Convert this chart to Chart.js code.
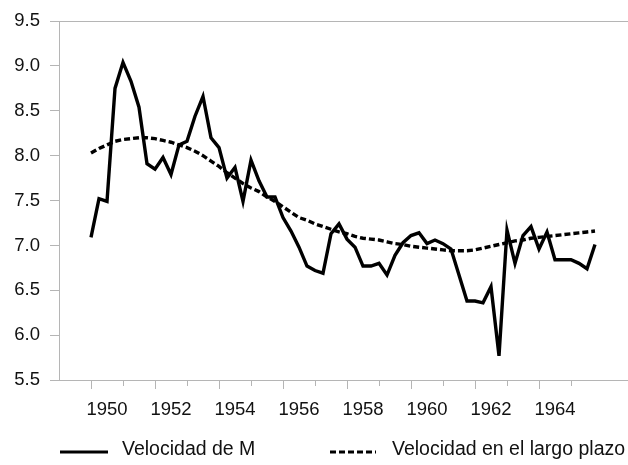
<!DOCTYPE html>
<html lang="es">
<head>
  <meta charset="UTF-8">
  <title>Velocidad de M</title>
  <script src="https://cdn.jsdelivr.net/npm/chart.js"></script>
  <style>
    html, body { margin: 0; padding: 0; background: #fff; }
    #wrap { width: 628px; height: 465px; }
  </style>
</head>
<body>
  <div id="wrap"><canvas id="chart"></canvas></div>

  <script>
    // datos trimestrales 1950T1 - 1965T4
    const firstYear = 1950;
    const velocidadM = [
      7.09, 7.52, 7.49, 8.75, 9.04, 8.83, 8.54, 7.91,
      7.85, 7.98, 7.79, 8.12, 8.16, 8.44, 8.66, 8.20,
      8.09, 7.75, 7.87, 7.49, 7.95, 7.72, 7.54, 7.54,
      7.31, 7.16, 6.98, 6.77, 6.72, 6.69, 7.13, 7.24,
      7.07, 6.98, 6.77, 6.77, 6.80, 6.67, 6.89, 7.03,
      7.11, 7.14, 7.02, 7.06, 7.02, 6.96, 6.67, 6.38,
      6.38, 6.36, 6.54, 5.77, 7.17, 6.80, 7.11, 7.21,
      6.96, 7.15, 6.84, 6.84, 6.84, 6.80, 6.74, 7.01
    ];
    const velocidadLargoPlazo = [
      8.03, 8.08, 8.12, 8.16, 8.18, 8.19, 8.20, 8.20,
      8.19, 8.17, 8.15, 8.12, 8.09, 8.05, 8.00, 7.94,
      7.88, 7.81, 7.75, 7.69, 7.64, 7.60, 7.54, 7.49,
      7.43, 7.37, 7.31, 7.28, 7.24, 7.21, 7.18, 7.15,
      7.13, 7.10, 7.08, 7.07, 7.06, 7.04, 7.02, 7.01,
      6.99, 6.98, 6.97, 6.96, 6.95, 6.94, 6.94, 6.94,
      6.95, 6.97, 6.99, 7.01, 7.03, 7.05, 7.06, 7.08,
      7.09, 7.10, 7.11, 7.12, 7.13, 7.14, 7.15, 7.16
    ];
    const tickYears = [1950,1951,1952,1953,1954,1955,1956,1957,1958,1959,1960,1961,1962,1963,1964,1965];
    const yearLabels = ['1950','1952','1954','1956','1958','1960','1962','1964'];
    const yTicks = [5.5, 6.0, 6.5, 7.0, 7.5, 8.0, 8.5, 9.0, 9.5];

    const axisGray = '#b5b5b5';
    const textColor = '#111';
    const fontFamily = "'Liberation Sans', Arial, sans-serif";

    const toPoints = arr => arr.map((v, i) => ({ x: firstYear + i / 4, y: v }));

    const series = [
      { label: 'Velocidad de M', data: velocidadM, dash: [] },
      { label: 'Velocidad en el largo plazo', data: velocidadLargoPlazo, dash: [6, 3] }
    ];

    // leyenda propia, dos elementos separados como en el original
    const legendSlots = [
      { lineFrom: 60, lineTo: 108, textX: 122 },
      { lineFrom: 330, lineTo: 376, textX: 392 }
    ];
    const legendBelow = {
      id: 'legendBelow',
      afterDraw(chart) {
        const ctx = chart.ctx;
        const y = chart.height - 15;
        ctx.save();
        chart.data.datasets.forEach((ds, i) => {
          const s = legendSlots[i];
          ctx.strokeStyle = ds.borderColor;
          ctx.lineWidth = 3;
          ctx.setLineDash(ds.borderDash || []);
          ctx.beginPath();
          ctx.moveTo(s.lineFrom, y + 2);
          ctx.lineTo(s.lineTo, y + 2);
          ctx.stroke();
          ctx.setLineDash([]);
          ctx.fillStyle = textColor;
          ctx.font = '19.5px ' + fontFamily;
          ctx.textBaseline = 'middle';
          ctx.textAlign = 'left';
          ctx.fillText(ds.label, s.textX, y);
        });
        ctx.restore();
      }
    };

    new Chart(document.getElementById('chart'), {
      type: 'line',
      data: {
        datasets: series.map(s => ({
          label: s.label,
          data: toPoints(s.data),
          borderColor: '#000',
          backgroundColor: '#000',
          borderWidth: 3.4,
          borderDash: s.dash,
          pointRadius: 0,
          tension: 0,
          fill: false
        }))
      },
      options: {
        responsive: true,
        maintainAspectRatio: false,
        animation: false,
        devicePixelRatio: 1,
        layout: { padding: { left: 0, right: 0, top: 20, bottom: 49 } },
        plugins: {
          legend: { display: false },
          tooltip: { enabled: false }
        },
        scales: {
          x: {
            type: 'linear',
            min: 1949,
            max: 1949 + 569 / 32,
            afterBuildTicks: scale => {
              const t = tickYears.map(v => ({ value: v }))
                .concat(yearLabels.map(l => ({ value: Number(l) + 0.5 })));
              t.sort((a, b) => a.value - b.value);
              scale.ticks = t;
            },
            afterFit: scale => { scale.height = 36; },
            ticks: {
              autoSkip: false,
              maxRotation: 0,
              padding: 10,
              color: textColor,
              font: { family: fontFamily, size: 18.5 },
              callback: v => yearLabels.includes(String(v - 0.5)) ? String(v - 0.5) : ''
            },
            grid: {
              drawOnChartArea: false,
              tickLength: 9,
              tickColor: c => Number.isInteger(c.tick.value) ? axisGray : 'rgba(0,0,0,0)',
              tickBorderDash: c => (c.tick.value % 2 === 0) ? [] : [5, 40]
            },
            border: { color: axisGray, width: 1 }
          },
          y: {
            min: 5.5,
            max: 9.5,
            afterBuildTicks: scale => { scale.ticks = yTicks.map(v => ({ value: v })); },
            afterFit: scale => { scale.width = 59; },
            ticks: {
              padding: 10,
              color: textColor,
              font: { family: fontFamily, size: 18.5 },
              callback: v => v.toFixed(1)
            },
            grid: {
              tickLength: 9,
              color: c => c.tick && c.tick.value === 9.5 ? axisGray : 'rgba(0,0,0,0)',
              tickColor: axisGray
            },
            border: { color: axisGray, width: 1 }
          }
        }
      },
      plugins: [legendBelow]
    });
  </script>
</body>
</html>
